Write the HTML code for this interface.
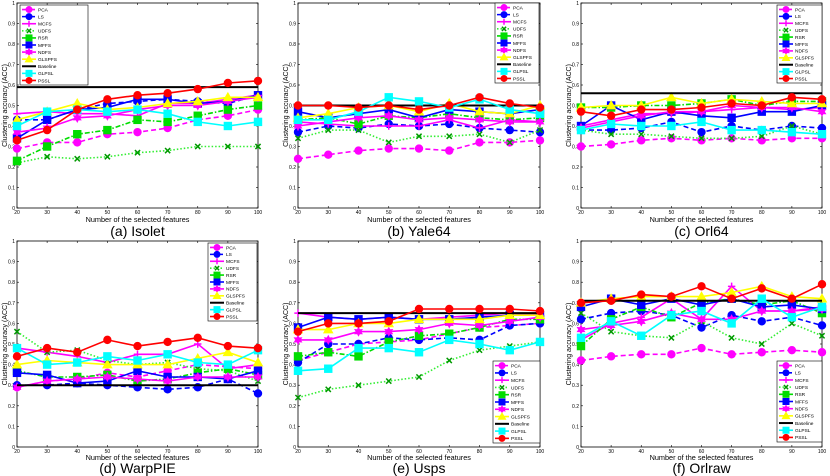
<!DOCTYPE html>
<html><head><meta charset="utf-8"><style>
body{margin:0;background:#fff;width:830px;height:476px;overflow:hidden}
svg{display:block;font-family:"Liberation Sans",sans-serif}
</style></head><body>
<svg id="c" width="830" height="476" viewBox="0 0 830 476"></svg>
<script>
const xCats=[20,30,40,50,60,70,80,90,100];
const yTicks=[0,0.1,0.2,0.3,0.4,0.5,0.6,0.7,0.8,0.9,1];
const seriesNames=["PCA","LS","MCFS","UDFS","RSR","MFFS","NDFS","GLSPFS","Baseline","GLPSL","PSSL"];
const panelTitles=["(a) Isolet","(b) Yale64","(c) Orl64","(d) WarpPIE","(e) Usps","(f) Orlraw"];
const isoletPCA=[0.29,0.32,0.32,0.36,0.37,0.39,0.43,0.45,0.48];
const isoletLS=[0.43,0.43,0.48,0.51,0.52,0.53,0.52,0.51,0.55];
const isoletMCFS=[0.46,0.47,0.46,0.46,0.45,0.51,0.51,0.53,0.55];
const isoletUDFS=[0.22,0.25,0.24,0.25,0.27,0.28,0.30,0.30,0.30];
const isoletRSR=[0.23,0.30,0.36,0.38,0.43,0.42,0.45,0.48,0.50];
const isoletMFFS=[0.34,0.43,0.48,0.49,0.53,0.53,0.51,0.52,0.55];
const isoletNDFS=[0.37,0.39,0.44,0.45,0.48,0.50,0.50,0.52,0.54];
const isoletGLSPFS=[0.43,0.47,0.51,0.48,0.49,0.51,0.52,0.54,0.54];
const isoletBase=[0.59,0.59,0.59,0.59,0.59,0.59,0.59,0.59,0.59];
const isoletGLPSL=[0.40,0.47,0.48,0.47,0.48,0.46,0.42,0.40,0.42];
const isoletPSSL=[0.33,0.38,0.48,0.53,0.55,0.56,0.58,0.61,0.62];
const yalePCA=[0.24,0.26,0.28,0.29,0.29,0.28,0.32,0.32,0.33];
const yaleLS=[0.37,0.40,0.39,0.41,0.40,0.41,0.39,0.38,0.37];
const yaleMCFS=[0.42,0.41,0.40,0.40,0.40,0.43,0.39,0.43,0.42];
const yaleUDFS=[0.34,0.38,0.38,0.32,0.35,0.35,0.36,0.32,0.38];
const yaleRSR=[0.43,0.44,0.41,0.45,0.44,0.46,0.44,0.43,0.44];
const yaleMFFS=[0.47,0.44,0.46,0.48,0.44,0.48,0.47,0.46,0.48];
const yaleNDFS=[0.40,0.42,0.44,0.45,0.43,0.44,0.43,0.42,0.42];
const yaleGLSPFS=[0.44,0.46,0.49,0.50,0.47,0.51,0.47,0.46,0.50];
const yaleBase=[0.50,0.50,0.50,0.50,0.50,0.50,0.50,0.50,0.50];
const yaleGLPSL=[0.43,0.43,0.47,0.54,0.52,0.49,0.53,0.48,0.46];
const yalePSSL=[0.50,0.50,0.49,0.50,0.48,0.50,0.54,0.51,0.49];
const orlPCA=[0.30,0.31,0.33,0.34,0.33,0.34,0.33,0.34,0.34];
const orlLS=[0.38,0.38,0.39,0.42,0.37,0.40,0.38,0.40,0.39];
const orlMCFS=[0.40,0.43,0.46,0.46,0.47,0.48,0.49,0.48,0.49];
const orlUDFS=[0.38,0.36,0.36,0.35,0.34,0.34,0.35,0.40,0.36];
const orlRSR=[0.49,0.49,0.50,0.50,0.51,0.53,0.50,0.52,0.52];
const orlMFFS=[0.40,0.50,0.43,0.47,0.45,0.44,0.47,0.47,0.50];
const orlNDFS=[0.39,0.42,0.45,0.47,0.47,0.50,0.49,0.49,0.47];
const orlGLSPFS=[0.49,0.50,0.50,0.54,0.51,0.53,0.52,0.51,0.51];
const orlBase=[0.56,0.56,0.56,0.56,0.56,0.56,0.56,0.56,0.56];
const orlGLPSL=[0.38,0.41,0.40,0.40,0.42,0.38,0.38,0.37,0.36];
const orlPSSL=[0.47,0.45,0.48,0.48,0.49,0.51,0.50,0.54,0.53];
const piePCA=[0.29,0.32,0.33,0.36,0.34,0.37,0.40,0.39,0.38];
const pieLS=[0.30,0.30,0.31,0.30,0.29,0.28,0.29,0.33,0.26];
const pieMCFS=[0.48,0.46,0.44,0.41,0.45,0.45,0.50,0.38,0.40];
const pieUDFS=[0.56,0.46,0.47,0.42,0.40,0.41,0.38,0.37,0.32];
const pieRSR=[0.37,0.34,0.34,0.35,0.32,0.33,0.36,0.38,0.35];
const pieMFFS=[0.36,0.35,0.31,0.32,0.37,0.34,0.34,0.33,0.37];
const pieNDFS=[0.29,0.32,0.33,0.34,0.33,0.32,0.34,0.34,0.34];
const pieGLSPFS=[0.40,0.42,0.41,0.40,0.40,0.40,0.43,0.46,0.41];
const pieBase=[0.30,0.30,0.30,0.30,0.30,0.30,0.30,0.30,0.30];
const pieGLPSL=[0.48,0.40,0.41,0.44,0.42,0.45,0.41,0.40,0.47];
const piePSSL=[0.44,0.48,0.46,0.52,0.49,0.51,0.53,0.49,0.48];
const uspsPCA=[0.42,0.46,0.50,0.51,0.52,0.55,0.58,0.59,0.60];
const uspsLS=[0.41,0.50,0.50,0.53,0.52,0.53,0.52,0.59,0.60];
const uspsMCFS=[0.65,0.63,0.62,0.63,0.62,0.63,0.64,0.65,0.64];
const uspsUDFS=[0.24,0.28,0.30,0.32,0.34,0.42,0.47,0.49,0.51];
const uspsRSR=[0.44,0.46,0.44,0.51,0.54,0.55,0.58,0.62,0.62];
const uspsMFFS=[0.58,0.63,0.62,0.63,0.62,0.62,0.63,0.64,0.64];
const uspsNDFS=[0.52,0.52,0.56,0.56,0.57,0.60,0.59,0.61,0.63];
const uspsGLSPFS=[0.57,0.57,0.60,0.60,0.62,0.62,0.62,0.64,0.64];
const uspsBase=[0.65,0.65,0.65,0.65,0.65,0.65,0.65,0.65,0.65];
const uspsGLPSL=[0.37,0.38,0.48,0.48,0.46,0.52,0.50,0.47,0.51];
const uspsPSSL=[0.56,0.60,0.60,0.61,0.67,0.67,0.67,0.67,0.66];
const rawPCA=[0.42,0.44,0.45,0.45,0.48,0.45,0.46,0.47,0.46];
const rawLS=[0.62,0.65,0.66,0.64,0.58,0.64,0.61,0.63,0.59];
const rawMCFS=[0.52,0.60,0.63,0.72,0.62,0.78,0.66,0.66,0.68];
const rawUDFS=[0.65,0.56,0.54,0.53,0.61,0.53,0.50,0.60,0.54];
const rawRSR=[0.49,0.62,0.68,0.63,0.70,0.72,0.69,0.71,0.65];
const rawMFFS=[0.68,0.72,0.69,0.72,0.69,0.72,0.68,0.69,0.67];
const rawNDFS=[0.57,0.59,0.61,0.65,0.62,0.62,0.66,0.66,0.67];
const rawGLSPFS=[0.70,0.72,0.73,0.73,0.73,0.75,0.78,0.73,0.72];
const rawBase=[0.71,0.71,0.71,0.71,0.71,0.71,0.71,0.71,0.71];
const rawGLPSL=[0.53,0.61,0.54,0.64,0.66,0.60,0.72,0.63,0.68];
const rawPSSL=[0.70,0.71,0.74,0.73,0.78,0.72,0.77,0.72,0.79];

const panelData=[
 [isoletPCA,isoletLS,isoletMCFS,isoletUDFS,isoletRSR,isoletMFFS,isoletNDFS,isoletGLSPFS,isoletBase,isoletGLPSL,isoletPSSL],
 [yalePCA,yaleLS,yaleMCFS,yaleUDFS,yaleRSR,yaleMFFS,yaleNDFS,yaleGLSPFS,yaleBase,yaleGLPSL,yalePSSL],
 [orlPCA,orlLS,orlMCFS,orlUDFS,orlRSR,orlMFFS,orlNDFS,orlGLSPFS,orlBase,orlGLPSL,orlPSSL],
 [piePCA,pieLS,pieMCFS,pieUDFS,pieRSR,pieMFFS,pieNDFS,pieGLSPFS,pieBase,pieGLPSL,piePSSL],
 [uspsPCA,uspsLS,uspsMCFS,uspsUDFS,uspsRSR,uspsMFFS,uspsNDFS,uspsGLSPFS,uspsBase,uspsGLPSL,uspsPSSL],
 [rawPCA,rawLS,rawMCFS,rawUDFS,rawRSR,rawMFFS,rawNDFS,rawGLSPFS,rawBase,rawGLPSL,rawPSSL]];

const styles=[
 {c:"#ff00ff",d:"5,3",m:"circle"},{c:"#0000ff",d:"5,3",m:"circle"},{c:"#ff00ff",d:"",m:"plus"},
 {c:"#33ee33",d:"1.5,2",m:"x"},{c:"#00dd00",d:"5,2,1.5,2",m:"square"},{c:"#0000ff",d:"",m:"square"},
 {c:"#ff00ff",d:"",m:"star"},{c:"#ffff00",d:"",m:"tri"},{c:"#000000",d:"",m:"none"},
 {c:"#00ffff",d:"",m:"square"},{c:"#ff0000",d:"",m:"circle"}];

const panels=[
 {x0:17,x1:258,yt:3,yb:208,cap:236,lab:222,leg:[20,5,88,85]},
 {x0:298,x1:540,yt:3,yb:208,cap:236,lab:222,leg:[495,3,539,83]},
 {x0:581,x1:822,yt:3,yb:208,cap:236,lab:222,leg:[777,5,822,83]},
 {x0:17,x1:258,yt:241,yb:447,cap:473,lab:460,leg:[208,243,257,321]},
 {x0:298,x1:540,yt:241,yb:447,cap:473,lab:460,leg:[493,361,540,443]},
 {x0:581,x1:822,yt:241,yb:447,cap:473,lab:460,leg:[777,361,822,442]}];

const svg=document.getElementById('c');
const NS="http://www.w3.org/2000/svg";
function mk(t,a,p){const e=document.createElementNS(NS,t);for(const k in a)e.setAttribute(k,a[k]);(p||svg).appendChild(e);return e;}
function marker(g,m,x,y,c,r){
 if(m==="circle")return mk('circle',{cx:x,cy:y,r:r,fill:c,stroke:c},g);
 if(m==="square")return mk('rect',{x:x-r,y:y-r,width:2*r,height:2*r,fill:c,stroke:c},g);
 if(m==="tri")return mk('polygon',{points:`${x},${y-r*1.2} ${x-r*1.2},${y+r*0.9} ${x+r*1.2},${y+r*0.9}`,fill:c,stroke:c},g);
 if(m==="plus")return mk('path',{d:`M${x-r} ${y}H${x+r}M${x} ${y-r}V${y+r}`,stroke:c,'stroke-width':1.5,fill:'none'},g);
 if(m==="x")return mk('path',{d:`M${x-r*0.7} ${y-r*0.7}L${x+r*0.7} ${y+r*0.7}M${x-r*0.7} ${y+r*0.7}L${x+r*0.7} ${y-r*0.7}`,stroke:'#009900','stroke-width':1.5,fill:'none'},g);
 if(m==="star"){let p=[];for(let i=0;i<12;i++){const a=Math.PI*i/6-Math.PI/2;const rr=i%2?r*0.6:r*1.1;p.push((x+rr*Math.cos(a)).toFixed(1)+','+(y+rr*Math.sin(a)).toFixed(1));}return mk('polygon',{points:p.join(' '),fill:c,stroke:c},g);}
 return null;
}
panels.forEach((P,pi)=>{
 const g=mk('g',{});
 
 
 const sx=v=>P.x0+(v-20)/80*(P.x1-P.x0);
 const sy=v=>P.yb-v*(P.yb-P.yt);
 const frame=mk('rect',{x:P.x0,y:P.yt,width:P.x1-P.x0,height:P.yb-P.yt,fill:'#fff',stroke:'#000','stroke-width':0.8},g);
 
 
 yTicks.forEach(t=>{
  const y=sy(t);
  mk('line',{x1:P.x0,x2:P.x0+2,y1:y,y2:y,stroke:'#000','stroke-width':0.6},g);
  mk('line',{x1:P.x1,x2:P.x1-2,y1:y,y2:y,stroke:'#000','stroke-width':0.6},g);
  const tx=mk('text',{x:P.x0-2,y:y+2,'font-size':5,'text-anchor':'end',fill:'#000'},g);
  tx.textContent=String(t);
  
  
 });
 xCats.forEach(t=>{
  const x=sx(t);
  mk('line',{x1:x,x2:x,y1:P.yb,y2:P.yb-2,stroke:'#000','stroke-width':0.6},g);
  mk('line',{x1:x,x2:x,y1:P.yt,y2:P.yt+2,stroke:'#000','stroke-width':0.6},g);
  const tx=mk('text',{x:x,y:P.yb+6,'font-size':5,'text-anchor':'middle',fill:'#000'},g);
  tx.textContent=String(t);
  
  
 });
 const yl=mk('text',{x:0,y:0,'font-size':7,'text-anchor':'middle',transform:`translate(${P.x0-10},${(P.yt+P.yb)/2}) rotate(-90)`},g);
 yl.textContent="Clustering accuracy (ACC)";
 
 
 const xl=mk('text',{x:(P.x0+P.x1)/2,y:P.lab,'font-size':7.3,'text-anchor':'middle'},g);
 xl.textContent="Number of the selected features";
 
 
 const cap=mk('text',{x:(P.x0+P.x1)/2,y:P.cap,'font-size':14,'text-anchor':'middle'},g);
 cap.textContent=panelTitles[pi];
 
 
 panelData[pi].forEach((vals,si)=>{
  const S=styles[si];
  const sg=mk('g',{},g);
  
  
  const pts=vals.map((v,i)=>sx(xCats[i]).toFixed(1)+','+sy(v).toFixed(1)).join(' ');
  mk('polyline',{points:pts,fill:'none',stroke:S.c,'stroke-width':si===8?2:1.6,'stroke-dasharray':S.d},sg);
  vals.forEach((v,i)=>{const m=marker(sg,S.m,sx(xCats[i]),sy(v),S.c,3.7);
   if(m){}});
 });
 const L=P.leg;
 const lg=mk('g',{},g);
 
 
 mk('rect',{x:L[0],y:L[1],width:L[2]-L[0],height:L[3]-L[1],fill:'#fff',stroke:'#000','stroke-width':0.6},lg);
 const rh=(L[3]-L[1]-2)/11;
 seriesNames.forEach((n,si)=>{
  const S=styles[si];
  const y=L[1]+1+rh*(si+0.5);
  const ent=mk('g',{},lg);
  
  
  mk('line',{x1:L[0]+2,x2:L[0]+16,y1:y,y2:y,stroke:S.c,'stroke-width':si===8?2:1.6,'stroke-dasharray':S.d},ent);
  marker(ent,S.m,L[0]+9,y,S.c,3);
  const t=mk('text',{x:L[0]+18,y:y+1.8,'font-size':4.8},ent);
  t.textContent=n;
 });
});
</script>
</body></html>
